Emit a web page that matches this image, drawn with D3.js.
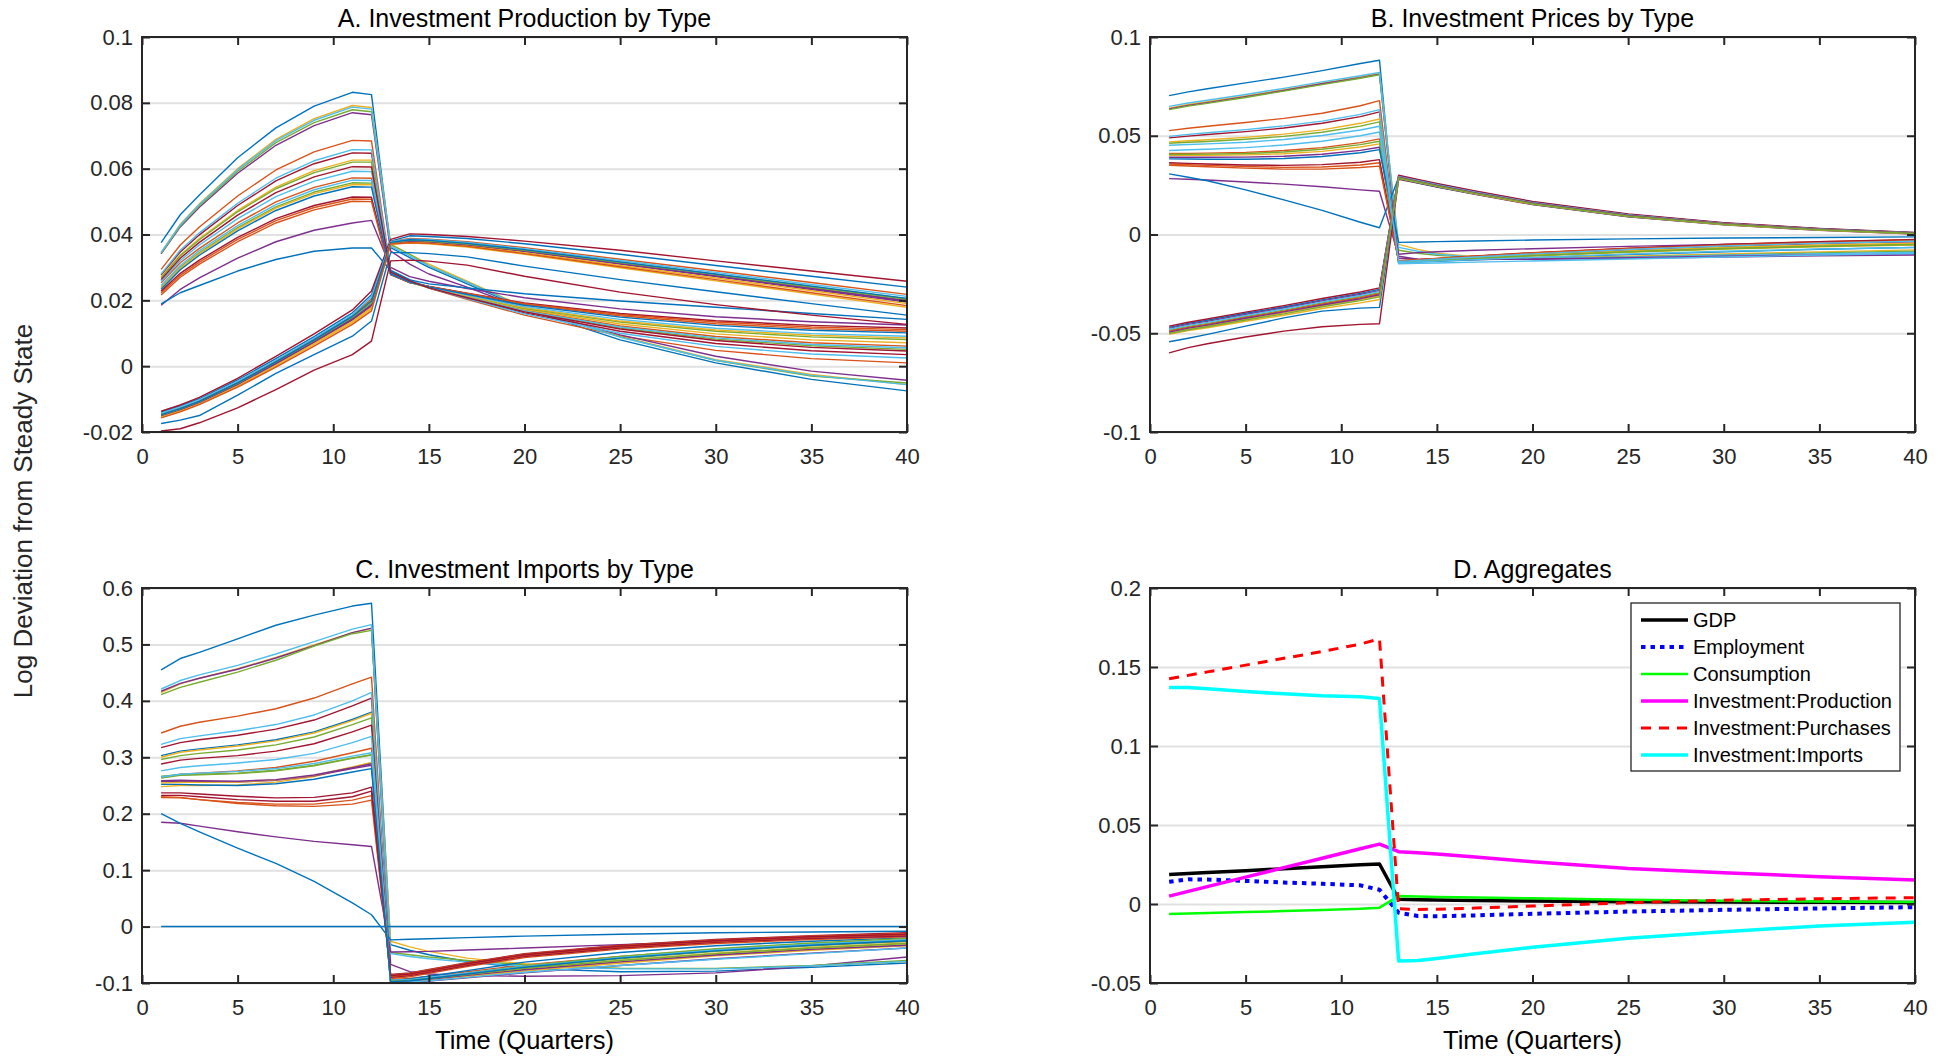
<!DOCTYPE html>
<html>
<head>
<meta charset="utf-8">
<script src="https://cdn.jsdelivr.net/npm/d3@7"></script>
<style>
  body { margin: 0; background: #fff; }
  svg { display: block; font-family: "Liberation Sans", Arial, Helvetica, sans-serif; }
</style>
</head>
<body>
<svg id="fig" width="1948" height="1058"></svg>
<script>
// Quarters at which each impulse response is recorded
const quarters = [1, 2, 3, 5, 7, 9, 11, 12, 13, 14, 15, 17, 20, 25, 30, 35, 40];

// Tick values
const xTicks = [0, 5, 10, 15, 20, 25, 30, 35, 40];
const yTicksProduction = [-0.02, 0, 0.02, 0.04, 0.06, 0.08, 0.1];
const yTicksPrices = [-0.1, -0.05, 0, 0.05, 0.1];
const yTicksImports = [-0.1, 0, 0.1, 0.2, 0.3, 0.4, 0.5, 0.6];
const yTicksAggregates = [-0.05, 0, 0.05, 0.1, 0.15, 0.2];

// A. Investment production, one row per investment type
const productionByType = [
  [.0375,.046,.052,.0633,.0724,.079,.0832,.0825, .0360,.0330,.0300,.0250,.0175,.0080,.0010,-.0040,-.0075],
  [.0294,.0368,.0423,.0517,.0596,.0651,.0686,.0684, .0290,.0262,.0237,.0203,.0155,.0092,.0048,.0023,.0010],
  [.0346,.0431,.0493,.0600,.0689,.0752,.0792,.0786, .0370,.0340,.0310,.0258,.0180,.0090,.0020,-.0025,-.0056],
  [.0341,.0423,.0483,.0586,.0671,.0731,.0770,.0764, .0350,.0310,.0280,.0240,.0175,.0095,.0030,-.0015,-.0043],
  [.0343,.0426,.0487,.0592,.0679,.0740,.0779,.0773, .0370,.0340,.0305,.0255,.0178,.0089,.0017,-.0030,-.0051],
  [.0345,.0429,.0491,.0597,.0685,.0747,.0787,.0781, .0365,.0335,.0305,.0255,.0178,.0088,.0018,-.0028,-.0056],
  [.0277,.0347,.0399,.0488,.0563,.0615,.0648,.0647, .0288,.0260,.0238,.0206,.0162,.0106,.0069,.0047,.0035],
  [-.0140,-.0121,-.0099,-.0042,.0023,.0090,.0162,.0217, .0380,.0396,.0394,.0388,.0372,.0340,.0306,.0273,.0240],
  [.0253,.0314,.0358,.0435,.0499,.0543,.0572,.0571, .0283,.0256,.0238,.0210,.0170,.0122,.0090,.0071,.0061],
  [.0271,.0338,.0388,.0473,.0544,.0594,.0626,.0626, .0285,.0258,.0240,.0212,.0173,.0128,.0098,.0080,.0071],
  [.0185,.0233,.0268,.0328,.0378,.0413,.0435,.0443, .0300,.0272,.0258,.0236,.0208,.0174,.0150,.0135,.0125],
  [.0268,.0335,.0384,.0469,.0539,.0588,.0620,.0620, .0287,.0259,.0239,.0209,.0167,.0116,.0082,.0062,.0051],
  [.0280,.0352,.0405,.0495,.0571,.0624,.0658,.0657, .0292,.0263,.0239,.0205,.0159,.0100,.0060,.0037,.0025],
  [-.0137,-.0118,-.0095,-.0037,.0030,.0098,.0171,.0228, .0385,.0402,.0400,.0394,.0380,.0352,.0320,.0289,.0258],
  [.0189,.0223,.0245,.0289,.0324,.0349,.0359,.0359, .0290,.0262,.0250,.0238,.0220,.0198,.0179,.0160,.0142],
  [.0222,.0276,.0316,.0385,.0442,.0482,.0508,.0507, .0279,.0254,.0242,.0220,.0188,.0153,.0129,.0114,.0106],
  [-.0155,-.0137,-.0115,-.0061,.0001,.0066,.0132,.0174, .0370,.0374,.0372,.0362,.0340,.0299,.0259,.0219,.0179],
  [-.0151,-.0133,-.0111,-.0057,.0006,.0072,.0140,.0182, .0373,.0379,.0377,.0368,.0348,.0310,.0272,.0233,.0195],
  [.0241,.0301,.0345,.0421,.0484,.0529,.0557,.0556, .0281,.0255,.0239,.0213,.0176,.0134,.0106,.0089,.0081],
  [.0258,.0321,.0368,.0448,.0515,.0562,.0592,.0591, .0284,.0257,.0238,.0209,.0168,.0119,.0086,.0066,.0056],
  [.0228,.0282,.0322,.0391,.0448,.0488,.0514,.0513, .0278,.0254,.0242,.0222,.0192,.0160,.0138,.0124,.0116],
  [-.0174,-.0164,-.0150,-.0088,-.0022,.0035,.0091,.0137, .0345,.0345,.0342,.0332,.0304,.0263,.0226,.0190,.0155],
  [.0216,.0270,.0310,.0378,.0435,.0475,.0501,.0500, .0278,.0254,.0242,.0221,.0190,.0157,.0134,.0119,.0111],
  [.0238,.0298,.0342,.0417,.0480,.0524,.0552,.0551, .0281,.0255,.0239,.0214,.0178,.0137,.0110,.0094,.0086],
  [-.0149,-.0131,-.0109,-.0054,.0010,.0076,.0145,.0188, .0374,.0381,.0379,.0370,.0351,.0313,.0275,.0238,.0200],
  [-.0146,-.0128,-.0106,-.0050,.0014,.0081,.0152,.0200, .0376,.0383,.0381,.0372,.0353,.0316,.0279,.0242,.0205],
  [.0245,.0306,.0351,.0427,.0491,.0536,.0565,.0564, .0282,.0256,.0240,.0216,.0181,.0142,.0115,.0099,.0091],
  [-.0197,-.0190,-.0172,-.0127,-.0071,-.0012,.0035,.0076, .0320,.0322,.0319,.0307,.0273,.0225,.0187,.0155,.0127],
  [.0234,.0293,.0337,.0411,.0473,.0517,.0545,.0544, .0280,.0255,.0241,.0218,.0185,.0149,.0124,.0109,.0101],
  [-.0144,-.0126,-.0104,-.0048,.0016,.0083,.0154,.0204, .0378,.0388,.0386,.0378,.0360,.0325,.0290,.0254,.0218],
  [-.0153,-.0135,-.0113,-.0059,.0004,.0069,.0136,.0178, .0372,.0377,.0375,.0366,.0345,.0306,.0268,.0229,.0190],
  [-.0150,-.0132,-.0110,-.0055,.0008,.0074,.0143,.0185, .0374,.0380,.0378,.0369,.0350,.0312,.0274,.0236,.0198],
  [-.0148,-.0130,-.0108,-.0052,.0012,.0078,.0148,.0192, .0375,.0382,.0380,.0371,.0352,.0315,.0278,.0240,.0203],
  [-.0143,-.0124,-.0102,-.0046,.0018,.0085,.0156,.0210, .0378,.0386,.0384,.0376,.0357,.0321,.0285,.0248,.0212],
  [.0263,.0328,.0376,.0459,.0527,.0575,.0606,.0605, .0286,.0259,.0238,.0208,.0165,.0113,.0078,.0057,.0046],
  [-.0147,-.0129,-.0107,-.0051,.0013,.0080,.0151,.0197, .0376,.0384,.0382,.0373,.0354,.0317,.0280,.0243,.0206],
  [-.0157,-.0139,-.0117,-.0064,-.0003,.0061,.0127,.0168, .0371,.0375,.0373,.0364,.0342,.0302,.0263,.0223,.0184]
];

// B. Investment prices, one row per investment type
const pricesByType = [
  [.0703,.0722,.0738,.0768,.0797,.0830,.0866,.0882, -.0145,-.0140,-.0136,-.0128,-.0118,-.0102,-.0088,-.0075,-.0065],
  [.0526,.0538,.0548,.0567,.0588,.0614,.0652,.0678, -.0140,-.0135,-.0130,-.0120,-.0106,-.0086,-.0070,-.0058,-.0050],
  [.0640,.0658,.0672,.0701,.0733,.0766,.0798,.0815, -.0050,-.0075,-.0095,-.0113,-.0118,-.0110,-.0098,-.0088,-.0078],
  [.0636,.0654,.0668,.0698,.0729,.0763,.0794,.0812, -.0120,-.0125,-.0126,-.0126,-.0125,-.0120,-.0114,-.0108,-.0104],
  [.0632,.0650,.0664,.0694,.0726,.0759,.0791,.0809, -.0080,-.0095,-.0105,-.0117,-.0121,-.0114,-.0103,-.0093,-.0085],
  [.0649,.0666,.0680,.0709,.0740,.0773,.0804,.0821, -.0065,-.0085,-.0100,-.0115,-.0120,-.0115,-.0105,-.0097,-.0090],
  [.0489,.0498,.0506,.0521,.0539,.0563,.0597,.0621, -.0138,-.0132,-.0126,-.0115,-.0100,-.0078,-.0060,-.0046,-.0036],
  [-.0470,-.0450,-.0434,-.0399,-.0367,-.0331,-.0298,-.0278, .0297,.0276,.0256,.0218,.0165,.0102,.0058,.0029,.0009],
  [.0410,.0411,.0412,.0416,.0425,.0440,.0465,.0484, -.0136,-.0130,-.0124,-.0112,-.0096,-.0073,-.0055,-.0040,-.0029],
  [.0469,.0475,.0480,.0492,.0508,.0530,.0563,.0585, -.0142,-.0137,-.0132,-.0122,-.0109,-.0090,-.0074,-.0062,-.0054],
  [.0283,.0280,.0276,.0266,.0255,.0242,.0226,.0219, -.0110,-.0125,-.0128,-.0127,-.0124,-.0117,-.0110,-.0103,-.0098],
  [.0462,.0467,.0471,.0482,.0497,.0518,.0549,.0570, -.0141,-.0136,-.0131,-.0121,-.0107,-.0088,-.0072,-.0060,-.0051],
  [.0497,.0507,.0515,.0531,.0550,.0574,.0608,.0632, -.0148,-.0146,-.0144,-.0140,-.0134,-.0124,-.0114,-.0104,-.0096],
  [-.0464,-.0444,-.0428,-.0393,-.0360,-.0324,-.0291,-.0270, .0300,.0279,.0259,.0220,.0167,.0104,.0060,.0031,.0011],
  [.0307,.0290,.0272,.0226,.0175,.0122,.0062,.0034, .0288,.0268,.0249,.0211,.0159,.0097,.0054,.0026,.0007],
  [.0357,.0353,.0350,.0344,.0340,.0342,.0352,.0363, -.0134,-.0127,-.0121,-.0109,-.0092,-.0069,-.0050,-.0036,-.0025],
  [.0401,.0401,.0401,.0403,.0409,.0421,.0443,.0459, -.0139,-.0134,-.0128,-.0118,-.0103,-.0083,-.0066,-.0053,-.0044],
  [.0391,.0391,.0391,.0392,.0396,.0406,.0426,.0442, -.0100,-.0092,-.0087,-.0080,-.0072,-.0060,-.0050,-.0042,-.0036],
  [.0405,.0406,.0407,.0410,.0418,.0432,.0455,.0472, -.0140,-.0135,-.0130,-.0120,-.0106,-.0087,-.0071,-.0059,-.0050],
  [.0425,.0429,.0432,.0440,.0453,.0472,.0500,.0519, -.0143,-.0139,-.0135,-.0127,-.0116,-.0099,-.0085,-.0074,-.0066],
  [.0363,.0360,.0357,.0352,.0350,.0354,.0366,.0379, -.0135,-.0128,-.0122,-.0110,-.0093,-.0070,-.0051,-.0037,-.0026],
  [.0383,.0382,.0381,.0381,.0385,.0395,.0414,.0430, -.0040,-.0038,-.0036,-.0033,-.0028,-.0022,-.0018,-.0015,-.0012],
  [.0351,.0347,.0343,.0336,.0331,.0331,.0339,.0346, -.0133,-.0127,-.0121,-.0110,-.0094,-.0072,-.0054,-.0041,-.0032],
  [-.0498,-.0478,-.0463,-.0429,-.0397,-.0361,-.0330,-.0310, .0288,.0267,.0247,.0209,.0157,.0095,.0053,.0025,.0006],
  [-.0475,-.0455,-.0440,-.0405,-.0372,-.0336,-.0304,-.0284, .0295,.0274,.0254,.0216,.0163,.0100,.0057,.0028,.0008],
  [-.0485,-.0465,-.0450,-.0415,-.0383,-.0346,-.0314,-.0294, .0291,.0270,.0250,.0212,.0160,.0098,.0055,.0027,.0007],
  [-.0480,-.0460,-.0445,-.0410,-.0377,-.0341,-.0309,-.0288, .0293,.0272,.0252,.0214,.0161,.0099,.0056,.0027,.0008],
  [-.0599,-.0573,-.0553,-.0519,-.0489,-.0467,-.0455,-.0452, .0280,.0260,.0240,.0203,.0151,.0090,.0049,.0021,.0002],
  [-.0543,-.0525,-.0506,-.0464,-.0422,-.0388,-.0373,-.0369, .0283,.0262,.0242,.0205,.0153,.0091,.0050,.0022,.0003],
  [-.0490,-.0470,-.0455,-.0420,-.0388,-.0352,-.0320,-.0300, .0290,.0269,.0249,.0211,.0159,.0097,.0055,.0026,.0007],
  [-.0506,-.0487,-.0472,-.0439,-.0409,-.0375,-.0346,-.0329, .0285,.0264,.0244,.0206,.0154,.0092,.0051,.0023,.0004],
  [-.0494,-.0474,-.0459,-.0424,-.0392,-.0357,-.0325,-.0305, .0289,.0268,.0248,.0210,.0158,.0096,.0054,.0026,.0006],
  [-.0502,-.0482,-.0467,-.0433,-.0402,-.0366,-.0335,-.0316, .0287,.0266,.0246,.0208,.0156,.0094,.0052,.0024,.0005],
  [.0452,.0456,.0459,.0467,.0481,.0501,.0529,.0548, -.0137,-.0131,-.0125,-.0114,-.0098,-.0076,-.0058,-.0044,-.0034]
];

// C. Investment imports, one row per investment type
const importsByType = [
  [.455,.475,.486,.510,.534,.552,.568,.573, -.0320,-.0420,-.0500,-.0620,-.0740,-.0800,-.0790,-.0720,-.0645],
  [.343,.355,.362,.373,.386,.405,.430,.442, -.0940,-.0920,-.0880,-.0800,-.0680,-.0530,-.0410,-.0320,-.0260],
  [.4146,.430,.440,.457,.477,.499,.521,.528, -.0260,-.0360,-.0440,-.0560,-.0660,-.0740,-.0745,-.0700,-.0620],
  [.417,.431,.440,.456,.476,.498,.521,.529, -.0670,-.0800,-.0840,-.0870,-.0880,-.0870,-.0820,-.0700,-.0540],
  [.411,.424,.433,.451,.472,.497,.519,.525, -.0460,-.0500,-.0540,-.0600,-.0680,-.0740,-.0740,-.0690,-.0600],
  [.421,.436,.446,.463,.483,.505,.527,.535, -.0480,-.0530,-.0570,-.0630,-.0700,-.0750,-.0750,-.0700,-.0620],
  [.317,.326,.331,.339,.350,.366,.391,.405, -.0890,-.0860,-.0800,-.0680,-.0520,-.0370,-.0270,-.0200,-.0155],
  [.303,.311,.315,.322,.331,.345,.367,.380, -.0960,-.0930,-.0880,-.0780,-.0630,-.0460,-.0340,-.0260,-.0200],
  [.264,.270,.272,.276,.282,.293,.308,.316, -.0920,-.0890,-.0830,-.0710,-.0550,-.0400,-.0300,-.0230,-.0180],
  [.300,.309,.313,.320,.329,.343,.365,.378, -.0970,-.0960,-.0930,-.0860,-.0750,-.0600,-.0470,-.0370,-.0290],
  [.185,.183,.178,.168,.159,.151,.145,.142, -.0450,-.0445,-.0440,-.0415,-.0380,-.0320,-.0260,-.0210,-.0170],
  [.296,.303,.307,.313,.322,.336,.358,.370, -.0960,-.0950,-.0910,-.0840,-.0720,-.0570,-.0440,-.0340,-.0260],
  [.323,.333,.338,.347,.358,.375,.400,.415, -.0950,-.0940,-.0900,-.0820,-.0700,-.0540,-.0410,-.0310,-.0230],
  [.288,.295,.298,.303,.311,.324,.345,.357, -.0900,-.0870,-.0810,-.0690,-.0530,-.0380,-.0280,-.0210,-.0165],
  [.200,.183,.168,.139,.112,.080,.042,.021, -.0235,-.0225,-.0215,-.0195,-.0170,-.0135,-.0110,-.0095,-.0083],
  [.230,.229,.225,.218,.214,.213,.217,.224, -.0880,-.0850,-.0790,-.0670,-.0510,-.0360,-.0260,-.0190,-.0145],
  [.248,.250,.250,.251,.256,.266,.282,.291, -.0985,-.0975,-.0950,-.0890,-.0790,-.0650,-.0520,-.0420,-.0340],
  [.257,.258,.257,.256,.259,.267,.280,.286, -.0990,-.0985,-.0965,-.0910,-.0820,-.0690,-.0570,-.0470,-.0380],
  [.263,.268,.269,.271,.276,.285,.298,.304, -.0980,-.0960,-.0920,-.0830,-.0700,-.0530,-.0390,-.0290,-.0210],
  [.276,.282,.285,.290,.296,.307,.326,.337, -.0970,-.0950,-.0910,-.0830,-.0710,-.0550,-.0420,-.0320,-.0240],
  [.237,.237,.235,.231,.228,.229,.237,.247, -.0850,-.0820,-.0760,-.0640,-.0480,-.0330,-.0230,-.0160,-.0110],
  [0,0,0,0,0,0,0,0, 0,0,0,0,0,0,0,0,0],
  [.2285,.228,.225,.220,.217,.217,.224,.232, -.0860,-.0830,-.0770,-.0650,-.0490,-.0340,-.0240,-.0170,-.0125],
  [.2545,.2555,.2555,.256,.260,.268,.283,.2905, -.0980,-.0970,-.0940,-.0870,-.0770,-.0630,-.0500,-.0400,-.0320],
  [.2585,.2595,.2585,.2575,.2605,.2685,.2815,.2885, -.0975,-.0965,-.0935,-.0865,-.0765,-.0625,-.0505,-.0405,-.0330],
  [.2665,.269,.270,.272,.277,.286,.299,.3045, -.0970,-.0955,-.0920,-.0850,-.0740,-.0600,-.0480,-.0380,-.0300],
  [.265,.270,.272,.275,.280,.289,.302,.308, -.0990,-.0980,-.0960,-.0900,-.0810,-.0690,-.0580,-.0480,-.0380],
  [.2325,.2325,.230,.225,.222,.222,.230,.240, -.0870,-.0840,-.0780,-.0660,-.0500,-.0350,-.0250,-.0180,-.0135],
  [.252,.252,.251,.250,.253,.261,.274,.280, -.0975,-.0960,-.0920,-.0840,-.0720,-.0560,-.0430,-.0330,-.0250]
];

// D. Aggregates
const aggregateNames = ["GDP", "Employment", "Consumption", "Investment:Production", "Investment:Purchases", "Investment:Imports"];
const gdp           = [.0187,.0193,.0199,.0211,.0223,.0236,.0248,.0253, .0030,.0027,.0025,.0022,.0019,.0015,.0012,.0011,.0010];
const employment    = [.0141,.0156,.0155,.0146,.0136,.0128,.0118,.0090, -.0055,-.0076,-.0078,-.0072,-.0062,-.0048,-.0037,-.0028,-.0020];
const consumption   = [-.0063,-.0060,-.0057,-.0051,-.0045,-.0038,-.0030,-.0023, .0050,.0047,.0045,.0041,.0036,.0027,.0020,.0016,.0013];
const invProduction = [.0050,.0080,.0110,.0170,.0230,.0290,.0350,.0379, .0331,.0324,.0316,.0297,.0267,.0225,.0198,.0173,.0152];
const invPurchases  = [.1425,.1447,.1469,.1512,.1555,.1598,.1645,.1678, -.0030,-.0035,-.0033,-.0026,-.0013,.0008,.0024,.0033,.0040];
const invImports    = [.1370,.1370,.1362,.1345,.1330,.1318,.1312,.1300, -.0360,-.0358,-.0345,-.0315,-.0274,-.0217,-.0175,-.0139,-.0116];

// ---------------------------------------------------------------------------
const typeColors = ["#0072BD", "#D95319", "#EDB120", "#7E2F8E", "#77AC30", "#4DBEEE", "#A2142F"];
const aggregateStyles = [
  { color: "#000000", width: 3.5, dash: null },
  { color: "#0000FF", width: 4,   dash: "4.5,5" },
  { color: "#00FF00", width: 2.5, dash: null },
  { color: "#FF00FF", width: 3.5, dash: null },
  { color: "#FF0000", width: 3,   dash: "10,8" },
  { color: "#00FFFF", width: 3.5, dash: null }
];

const svg = d3.select("#fig");
const plotW = 765, plotH = 395;
const axisColor = "#262626";
const fmt = d => String(+d.toFixed(4));

function makePanel(cfg, idx) {
  const x = d3.scaleLinear().domain([0, 40]).range([cfg.left, cfg.left + plotW]);
  const y = d3.scaleLinear().domain(d3.extent(cfg.yTicks)).range([cfg.top + plotH, cfg.top]);
  const g = svg.append("g");

  // horizontal grid
  g.append("g")
    .attr("transform", `translate(${cfg.left},0)`)
    .call(d3.axisLeft(y).tickValues(cfg.yTicks).tickSize(-plotW).tickFormat(""))
    .call(s => s.select(".domain").remove())
    .selectAll("line").attr("stroke", "#e1e1e1").attr("stroke-width", 2);

  const clipId = "clip" + idx;
  svg.append("clipPath").attr("id", clipId).append("rect")
    .attr("x", cfg.left).attr("y", cfg.top).attr("width", plotW).attr("height", plotH);

  const line = d3.line().x((d, i) => x(quarters[i])).y(d => y(d));
  const lines = g.append("g").attr("clip-path", `url(#${clipId})`);

  if (cfg.series) {
    lines.selectAll("path").data(cfg.series).join("path")
      .attr("d", line)
      .attr("fill", "none")
      .attr("stroke", (d, i) => typeColors[i % typeColors.length])
      .attr("stroke-width", 1.4)
      .attr("stroke-linejoin", "round");
  } else {
    lines.selectAll("path").data(cfg.aggregates).join("path")
      .attr("d", line)
      .attr("fill", "none")
      .attr("stroke", (d, i) => aggregateStyles[i].color)
      .attr("stroke-width", (d, i) => aggregateStyles[i].width)
      .attr("stroke-dasharray", (d, i) => aggregateStyles[i].dash)
      .attr("stroke-linejoin", "round");
  }

  const styleAxis = s => {
    s.attr("font-size", 22).attr("font-family", null).attr("color", axisColor);
    s.select(".domain").remove();
    s.selectAll(".tick line").attr("stroke-width", 2);
  };

  g.append("g").attr("transform", `translate(0,${cfg.top + plotH})`)
    .call(d3.axisBottom(x).tickValues(xTicks).tickSize(-8).tickPadding(16).tickFormat(d3.format("d")))
    .call(styleAxis);
  g.append("g").attr("transform", `translate(0,${cfg.top})`)
    .call(d3.axisTop(x).tickValues(xTicks).tickSize(-8).tickFormat(""))
    .call(styleAxis);
  g.append("g").attr("transform", `translate(${cfg.left},0)`)
    .call(d3.axisLeft(y).tickValues(cfg.yTicks).tickSize(-8).tickPadding(9).tickFormat(fmt))
    .call(styleAxis);
  g.append("g").attr("transform", `translate(${cfg.left + plotW},0)`)
    .call(d3.axisRight(y).tickValues(cfg.yTicks).tickSize(-8).tickFormat(""))
    .call(styleAxis);

  g.append("rect")
    .attr("x", cfg.left).attr("y", cfg.top).attr("width", plotW).attr("height", plotH)
    .attr("fill", "none").attr("stroke", axisColor).attr("stroke-width", 2);

  g.append("text")
    .attr("x", cfg.left + plotW / 2).attr("y", cfg.top - 10)
    .attr("text-anchor", "middle").attr("font-size", 25).attr("fill", "#000")
    .text(cfg.title);

  if (cfg.xlabel) {
    g.append("text")
      .attr("x", cfg.left + plotW / 2).attr("y", 1049)
      .attr("text-anchor", "middle").attr("font-size", 25.5).attr("fill", "#000")
      .text("Time (Quarters)");
  }
  return { x, y, g };
}

const panels = [
  { title: "A. Investment Production by Type", left: 142,  top: 37,  yTicks: yTicksProduction, series: productionByType, xlabel: false },
  { title: "B. Investment Prices by Type",     left: 1150, top: 37,  yTicks: yTicksPrices,     series: pricesByType,     xlabel: false },
  { title: "C. Investment Imports by Type",    left: 142,  top: 588, yTicks: yTicksImports,    series: importsByType,    xlabel: true },
  { title: "D. Aggregates",                    left: 1150, top: 588, yTicks: yTicksAggregates,
    aggregates: [gdp, employment, consumption, invProduction, invPurchases, invImports], xlabel: true }
];

panels.forEach((p, i) => makePanel(p, i));

// legend for the aggregates panel
const legend = svg.append("g").attr("transform", "translate(1631,603)");
legend.append("rect").attr("width", 269).attr("height", 168)
  .attr("fill", "#fff").attr("stroke", axisColor).attr("stroke-width", 1.3);
aggregateNames.forEach((name, i) => {
  const ly = 17 + i * 27;
  const st = aggregateStyles[i];
  legend.append("line")
    .attr("x1", 10).attr("x2", 57).attr("y1", ly).attr("y2", ly)
    .attr("stroke", st.color).attr("stroke-width", st.width)
    .attr("stroke-dasharray", st.dash);
  legend.append("text")
    .attr("x", 62).attr("y", ly).attr("dy", "0.35em")
    .attr("font-size", 20).attr("fill", "#000")
    .text(name);
});

// shared y-axis label
svg.append("text")
  .attr("transform", "translate(23,511) rotate(-90)")
  .attr("text-anchor", "middle").attr("dy", "0.35em")
  .attr("font-size", 26).attr("fill", "#262626")
  .text("Log Deviation from Steady State");
</script>
</body>
</html>
